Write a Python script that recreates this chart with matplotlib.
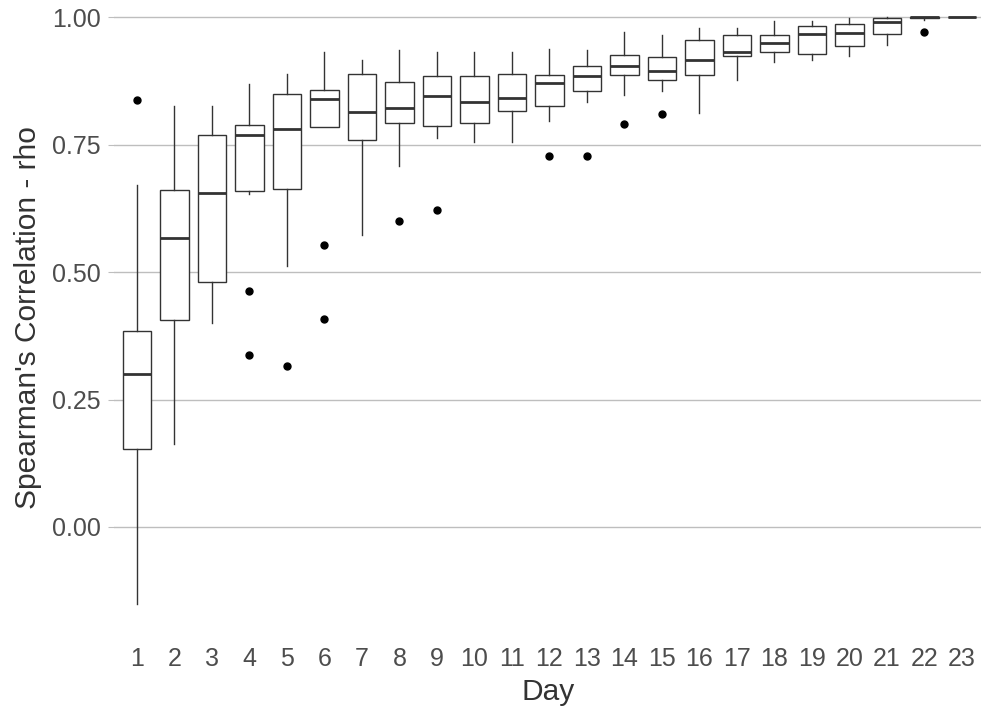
import matplotlib.pyplot as plt

plt.rcParams['font.family'] = ['Liberation Sans', 'DejaVu Sans']

days = list(range(1, 24))
# five-number summaries (lower whisker, q1, median, q3, upper whisker)
whis_lo = [-0.151, 0.163, 0.400, 0.652, 0.511, 0.784, 0.573, 0.707, 0.763, 0.755, 0.755, 0.797,
           0.833, 0.847, 0.854, 0.812, 0.876, 0.911, 0.916, 0.924, 0.946, 0.995, 1.000]
q1 = [0.153, 0.405, 0.480, 0.658, 0.662, 0.784, 0.758, 0.792, 0.786, 0.792, 0.816, 0.826,
      0.855, 0.886, 0.877, 0.886, 0.923, 0.932, 0.928, 0.944, 0.966, 0.998, 1.000]
med = [0.300, 0.567, 0.655, 0.769, 0.780, 0.840, 0.814, 0.822, 0.846, 0.833, 0.842, 0.871,
       0.884, 0.903, 0.895, 0.916, 0.931, 0.949, 0.966, 0.968, 0.990, 1.000, 1.000]
q3 = [0.385, 0.660, 0.769, 0.789, 0.850, 0.857, 0.889, 0.873, 0.884, 0.884, 0.889, 0.886,
      0.903, 0.925, 0.922, 0.954, 0.965, 0.965, 0.983, 0.986, 0.999, 1.000, 1.000]
whis_hi = [0.670, 0.825, 0.825, 0.868, 0.888, 0.931, 0.916, 0.936, 0.931, 0.931, 0.931, 0.937,
           0.936, 0.971, 0.965, 0.978, 0.978, 0.992, 0.992, 0.998, 1.000, 1.000, 1.000]
outliers = {1: [0.838], 4: [0.462, 0.337], 5: [0.315], 6: [0.552, 0.407], 8: [0.601],
            9: [0.622], 12: [0.727], 13: [0.727], 14: [0.790], 15: [0.810], 22: [0.971]}

stats = []
for i, d in enumerate(days):
    stats.append(dict(med=med[i], q1=q1[i], q3=q3[i], whislo=whis_lo[i], whishi=whis_hi[i],
                      fliers=outliers.get(d, []), label=str(d)))

fig = plt.figure(figsize=(9.81, 7.19), dpi=100)
ax = fig.add_axes([0.1167, 0.1188, 0.8833, 0.8788])

line_col = '#333333'
ax.bxp(stats, positions=days, widths=0.75, patch_artist=True, showcaps=False,
       boxprops=dict(facecolor='white', edgecolor=line_col, linewidth=1.0),
       whiskerprops=dict(color=line_col, linewidth=1.0),
       medianprops=dict(color=line_col, linewidth=2.0),
       flierprops=dict(marker='o', markerfacecolor='black', markeredgecolor='black',
                       markersize=5, linestyle='none'),
       zorder=3)

ax.set_xlim(0.4, 23.507)
ax.set_ylim(-0.209, 1.03)
ax.set_yticks([0.0, 0.25, 0.5, 0.75, 1.0])
ax.set_yticklabels(['0.00', '0.25', '0.50', '0.75', '1.00'])
ax.set_xticks(days)
ax.set_xticklabels([str(d) for d in days])
ax.grid(axis='y', color='#BEBEBE', linewidth=1.0, zorder=0)
ax.set_axisbelow(True)
for s in ax.spines.values():
    s.set_visible(False)
ax.tick_params(axis='y', length=4, color='#BEBEBE', labelsize=18, labelcolor='#4D4D4D', pad=6)
ax.tick_params(axis='x', length=0, labelsize=18, labelcolor='#4D4D4D', pad=10)

ax.set_xlabel('Day', fontsize=21.5, color='#333333', labelpad=5)
ax.set_ylabel("Spearman's Correlation - rho", fontsize=21.5, color='#333333')
ax.yaxis.set_label_coords(-0.084, 0.5)

fig.savefig('out.png', dpi=100, facecolor='white')
